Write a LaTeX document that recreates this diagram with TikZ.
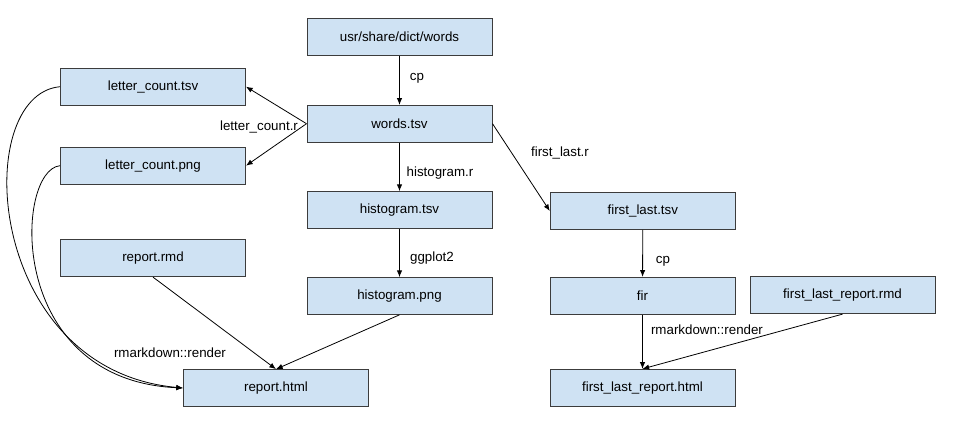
\documentclass[tikz,border=0pt]{standalone}
\usepackage{fontspec}
\setmainfont{Liberation Sans}
\usetikzlibrary{arrows.meta}
\definecolor{boxblue}{HTML}{CFE2F3}
\definecolor{boxline}{HTML}{3C3C3C}

\begin{document}
\begin{tikzpicture}[x=0.75pt,y=-0.75pt,font=\fontsize{10}{12}\selectfont,
  box/.style={draw=boxline,fill=boxblue,line width=0.75pt,minimum width=138.75pt,minimum height=27.5pt,inner sep=0pt},
  lbl/.style={inner sep=0pt},
  arr/.style={-{Latex[length=5pt,width=4pt]},line width=0.6pt}]
\useasboundingbox (0,0) rectangle (958,442);

% middle column
\node[box] (src) at (399.5,37) {usr/share/dict/words};
\node[box] (words) at (399.5,123.7) {words.tsv};
\node[box] (histtsv) at (399.5,210) {histogram.tsv};
\node[box] (histpng) at (399.5,296) {histogram.png};

% left column
\node[box] (lctsv) at (153,86.7) {letter\_count.tsv};
\node[box] (lcpng) at (153,165.7) {letter\_count.png};
\node[box] (rmd) at (153,258.3) {report.rmd};
\node[box] (html) at (276,388) {report.html};

% right column
\node[box] (fltsv) at (642.8,211) {first\_last.tsv};
\node[box] (fir) at (642.5,295.7) {fir};
\node[box] (flrmd) at (842.5,295.3) {first\_last\_report.rmd};
\node[box] (flhtml) at (642.5,387.7) {first\_last\_report.html};

% steps
\draw[arr] (src) -- (words);
\node[lbl] (cpa) at (417,78) {cp};
\draw[arr] (words.west) -- (lctsv.east);
\draw[arr] (words.west) -- (lcpng.east);
\node[lbl] (lcr) at (259,127) {letter\_count.r};
\draw[arr] (words) -- (histtsv);
\node[lbl] (histr) at (440,173) {histogram.r};
\draw[arr] (histtsv) -- (histpng);
\node[lbl] (gg) at (432,258) {ggplot2};
\draw[arr] (words.east) -- (fltsv.west);
\node[lbl] (flr) at (560,153) {first\_last.r};
\draw[arr] (fltsv) -- (fir);
\node[lbl] (cpb) at (663,261) {cp};

% render
\draw[arr] (rmd.south) -- (html.north);
\draw[arr] (histpng.south) -- (html.north);
\draw[arr] (lctsv.west) .. controls (-30,95) and (-15,370) .. (html.west);
\draw[arr] (lcpng.west) .. controls (15,170) and (5,380) .. (html.west);
\node[lbl] (rendera) at (170,353) {rmarkdown::render};
\draw[arr] (fir) -- (flhtml);
\draw[arr] (flrmd.south) -- (flhtml.north);
\node[lbl] (renderb) at (707,330) {rmarkdown::render};

\end{tikzpicture}
\end{document}
